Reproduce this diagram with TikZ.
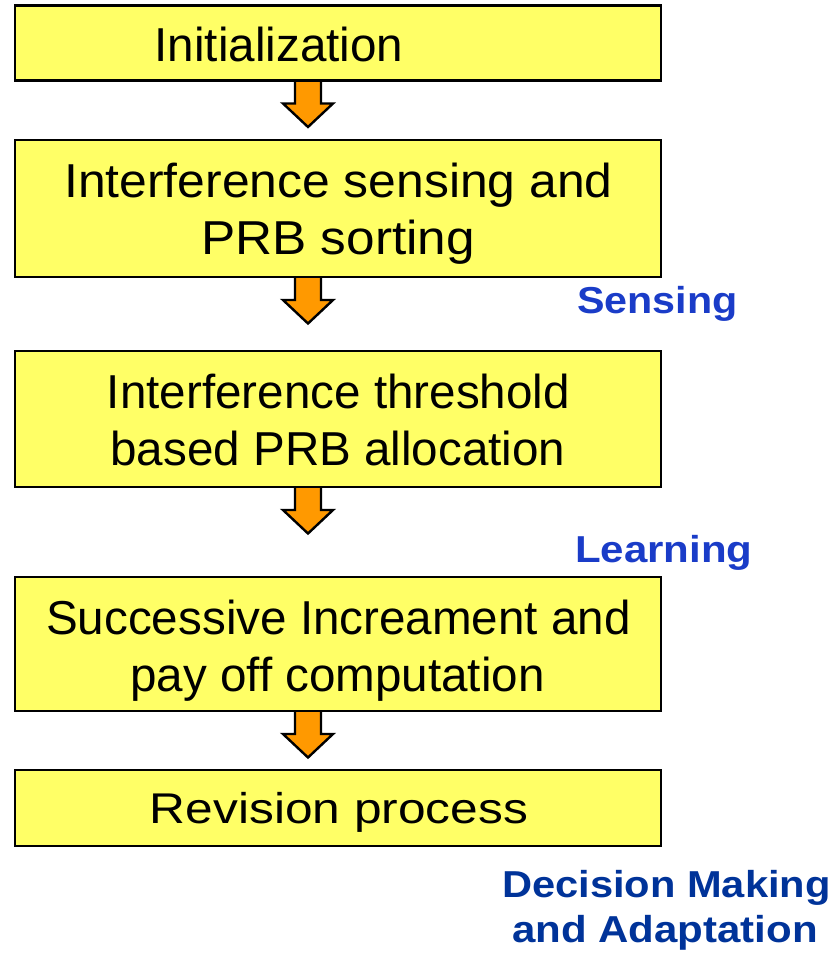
\documentclass[tikz,border=0pt]{standalone}
\usepackage{fontspec}
\setmainfont{Liberation Sans}
\usetikzlibrary{calc}
\definecolor{boxyellow}{HTML}{FFFF66}
\definecolor{arrorange}{HTML}{FF9900}
\definecolor{lblblue}{HTML}{1A3CC8}
\definecolor{lbldark}{HTML}{003399}
\tikzset{
  flowbox/.style={draw=black, line width=2.6pt, fill=boxyellow, minimum width=646pt, inner sep=0pt},
  boxtext/.style={anchor=base, inner sep=0pt, font=\fontsize{47.6}{57}\selectfont},
  blockarr/.style={draw=black, line width=2.4pt, fill=arrorange, line join=miter},
  steplabel/.style={anchor=base west, inner sep=0pt, font=\fontsize{37.5}{44}\selectfont\bfseries},
}
\newcommand\xs[2]{\scalebox{#1}[1]{#2}}
\newcommand\blockarrow[1]{%
  \filldraw[blockarr] ($(#1)+(-13,0)$) -- ($(#1)+(-13,23)$) -- ($(#1)+(-25,23)$)
    -- ($(#1)+(0,46.5)$) -- ($(#1)+(25,23)$) -- ($(#1)+(13,23)$) -- ($(#1)+(13,0)$);}
\begin{document}
\begin{tikzpicture}[x=1pt,y=-1pt]
\useasboundingbox (0,0) rectangle (838,957);
% box positions (drawn after arrows)
\path (338,43) coordinate (c1) (338,208.5) coordinate (c2) (338,419) coordinate (c3)
      (338,644) coordinate (c4) (338,808) coordinate (c5);
\coordinate (a1) at (308,80.5);
\coordinate (a2) at (308,277);
\coordinate (a3) at (308,487);
\coordinate (a4) at (308,711);
\blockarrow{a1}
\blockarrow{a2}
\blockarrow{a3}
\blockarrow{a4}
\node[flowbox, minimum height=75pt]  (b1) at (c1) {};
\node[flowbox, minimum height=137pt] (b2) at (c2) {};
\node[flowbox, minimum height=136pt] (b3) at (c3) {};
\node[flowbox, minimum height=134pt] (b4) at (c4) {};
\node[flowbox, minimum height=76pt]  (b5) at (c5) {};
% box texts
\node[boxtext] (t1) at (279,61.7) {Initialization};
\node[boxtext] (t2a) at (338.5,198) {\xs{1.047}{Interference sensing and}};
\node[boxtext] (t2b) at (338,255) {\xs{1.078}{PRB sorting}};
\node[boxtext] (t3a) at (338.5,408.5) {Interference threshold};
\node[boxtext] (t3b) at (338,465.5) {based PRB allocation};
\node[boxtext] (t4a) at (338.5,634) {Successive Increament and};
\node[boxtext] (t4b) at (337.5,691) {pay off computation};
\node[boxtext, font=\fontsize{43}{52}\selectfont] (t5) at (339,823.3) {\xs{1.155}{Revision process}};
% stage labels
\node[steplabel, text=lblblue] (ls) at (577,313) {\xs{1.10}{Sensing}};
\node[steplabel, text=lblblue] (ll) at (575,562.5) {\xs{1.12}{Learning}};
\node[steplabel, text=lbldark] (ld1) at (502,897.5) {\xs{1.11}{Decision Making}};
\node[steplabel, text=lbldark] (ld2) at (512,942) {\xs{1.12}{and Adaptation}};
\end{tikzpicture}
\end{document}
